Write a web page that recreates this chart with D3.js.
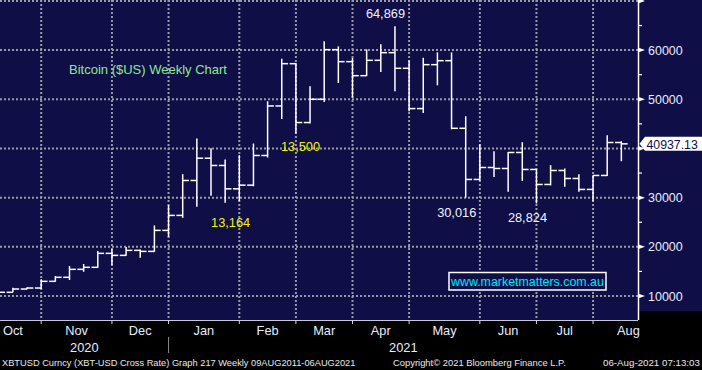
<!DOCTYPE html>
<html><head><meta charset="utf-8">
<script src="https://cdn.jsdelivr.net/npm/d3@7"></script>
<style>html,body{margin:0;padding:0;background:#000;overflow:hidden}svg{display:block}</style>
</head><body><svg id="c" width="702" height="370"></svg>
<script>
// ---- data (weekly OHLC, XBT-USD) ----
const weeks = ["2020-09-28","2020-10-05","2020-10-12","2020-10-19","2020-10-26","2020-11-02","2020-11-09","2020-11-16","2020-11-23","2020-11-30","2020-12-07","2020-12-14","2020-12-21","2020-12-28","2021-01-04","2021-01-11","2021-01-18","2021-01-25","2021-02-01","2021-02-08","2021-02-15","2021-02-22","2021-03-01","2021-03-08","2021-03-15","2021-03-22","2021-03-29","2021-04-05","2021-04-12","2021-04-19","2021-04-26","2021-05-03","2021-05-10","2021-05-17","2021-05-24","2021-05-31","2021-06-07","2021-06-14","2021-06-21","2021-06-28","2021-07-05","2021-07-12","2021-07-19","2021-07-26","2021-08-02"];
const open  = [10800,10750,11420,11620,12980,13800,15420,15830,18670,18260,19280,19070,23340,26390,33490,38020,36540,31790,32540,38570,48640,57240,45270,50000,60090,57650,54800,57920,59480,56300,48110,57040,57850,44100,33700,36130,35930,39180,35730,32680,35520,33900,31670,34510,41210];
const high  = [10950,11690,11770,13390,14060,16090,16500,19140,19540,19950,19480,24350,28480,34770,42010,40050,37750,38630,41000,49600,58260,57400,52640,61780,60760,58390,60150,61170,64869,57870,58460,59540,59540,46550,40860,39440,39300,41270,35850,36600,35930,34770,34570,42690,41470];
const low   = [10450,10750,11360,11420,12900,13250,14930,15750,16290,18180,17780,19000,22040,25900,28130,30370,28950,29290,32300,38160,46000,43030,45070,49450,53310,50350,54730,55540,51630,47560,47220,52840,43900,30016,33410,34220,31180,33410,28824,32500,32190,31180,29290,34400,37410];
const close = [10750,11420,11620,12980,13800,15420,15830,18670,18260,19280,19070,23340,26390,33490,38020,36540,31790,32540,38570,48640,57240,45270,50000,60090,57650,54800,57920,59480,56300,48110,57040,57850,44100,33700,36130,35930,39180,35730,32680,35520,33900,31670,34510,41210,40937.13];

const priceTicks = [10000,20000,30000,40000,50000,60000,70000];
const minorTicks = [15000,25000,35000,45000,55000,65000];
// weeks at which the month grid lines are drawn (plus outer edges for label centring)
const monthGridWeeks = ["2020-10-19","2020-11-23","2020-12-21","2021-01-25","2021-02-22","2021-03-22","2021-04-19","2021-05-24","2021-06-21","2021-07-19"];
const monthEdgeWeeks = ["2020-09-21","2021-08-23"];
const monthLabels = ["Oct","Nov","Dec","Jan","Feb","Mar","Apr","May","Jun","Jul","Aug"];
const yearLabels = ["2020","2021"];
const yearBreakWeek = "2020-12-21";
const titleText = "Bitcoin ($US) Weekly Chart";
const sourceText = "www.marketmatters.com.au";
const annoTexts = ["64,869","30,016","28,824","13,164","13,500"];
const footLeft = "XBTUSD Curncy (XBT-USD Cross Rate) Graph 217  Weekly 09AUG2011-06AUG2021";
const footMid = "Copyright\u00A9 2021 Bloomberg Finance L.P.";
const footRight = "06-Aug-2021 07:13:03";

// ---- layout ----
const W = 702, H = 370, plotR = 638, plotB = 320;
const NAVY = "#0f0e47", GRID = "#9a9aa2", AXT = "#e6ecff";
const parse = d3.utcParse("%Y-%m-%d");
const dates = weeks.map(parse);
const x = d3.scaleUtc().domain([dates[0], dates[dates.length-1]]).range([-1.25, 621.35]);
const y = d3.scaleLinear().domain([10000, 60000]).range([296, 50.1]);
const FONT = "'Liberation Sans', Arial, sans-serif";

const svg = d3.select("#c");
svg.append("rect").attr("width", W).attr("height", H).attr("fill", "#000");
svg.append("rect").attr("x", 0).attr("y", 0).attr("width", plotR).attr("height", plotB).attr("fill", NAVY);
svg.append("rect").attr("x", plotR).attr("y", 0).attr("width", W - plotR).attr("height", 311).attr("fill", NAVY);

svg.append("defs").append("clipPath").attr("id", "clip")
  .append("rect").attr("x", 0).attr("y", 0).attr("width", plotR).attr("height", plotB);
const plot = svg.append("g").attr("clip-path", "url(#clip)");

// grid
plot.selectAll("line.hg").data(priceTicks).join("line").attr("class", "hg")
  .attr("x1", 0).attr("x2", plotR).attr("y1", d => y(d)).attr("y2", d => y(d))
  .attr("stroke", GRID).attr("stroke-width", 2).attr("stroke-dasharray", "2,2");
plot.selectAll("line.vg").data(monthGridWeeks).join("line").attr("class", "vg")
  .attr("x1", d => x(parse(d))).attr("x2", d => x(parse(d))).attr("y1", 0).attr("y2", plotB)
  .attr("stroke", GRID).attr("stroke-width", 2).attr("stroke-dasharray", "2,2");

// OHLC bars
const tick = 6.3;
const bars = plot.selectAll("g.bar").data(dates).join("g").attr("class", "bar");
bars.append("line").attr("x1", d => x(d)).attr("x2", d => x(d))
  .attr("y1", (d, i) => y(high[i])).attr("y2", (d, i) => y(low[i]));
bars.append("line").attr("x1", d => x(d) - tick).attr("x2", d => x(d))
  .attr("y1", (d, i) => y(open[i])).attr("y2", (d, i) => y(open[i]));
bars.append("line").attr("x1", d => x(d)).attr("x2", d => x(d) + tick)
  .attr("y1", (d, i) => y(close[i])).attr("y2", (d, i) => y(close[i]));
bars.selectAll("line").attr("stroke", "#fff").attr("stroke-width", 1.5);

// annotations
const idx = w => weeks.indexOf(w);
const annos = [
  {t: annoTexts[0], cx: x(dates[idx("2021-04-12")]) - 9.5, by: y(high[idx("2021-04-12")]) - 8, c: "#eef2ff"},
  {t: annoTexts[1], cx: x(dates[idx("2021-05-17")]) - 9, by: y(low[idx("2021-05-17")]) + 19, c: "#eef2ff"},
  {t: annoTexts[2], cx: x(dates[idx("2021-06-21")]) - 9, by: y(low[idx("2021-06-21")]) + 19, c: "#eef2ff"},
  {t: annoTexts[3], cx: x(dates[idx("2021-01-18")]) + 5.5, by: y(low[idx("2021-01-18")]) + 24, c: "#f4f400"},
  {t: annoTexts[4], cx: x(dates[idx("2021-02-22")]) + 4.6, by: y(low[idx("2021-02-22")]) + 17, c: "#f4f400"}
];
svg.selectAll("text.anno").data(annos).join("text").attr("class", "anno")
  .attr("x", d => d.cx).attr("y", d => d.by).attr("text-anchor", "middle")
  .attr("fill", d => d.c).attr("font-family", FONT).attr("font-size", 12.8).text(d => d.t);

// title
svg.append("text").attr("x", 69).attr("y", 73.5).attr("fill", "#8ee88e")
  .attr("font-family", FONT).attr("font-size", 13).text(titleText);

// source box
svg.append("rect").attr("x", 449).attr("y", 272.5).attr("width", 157).attr("height", 17.5)
  .attr("fill", NAVY).attr("stroke", "#fff").attr("stroke-width", 1.5);
svg.append("text").attr("x", 451).attr("y", 286).attr("fill", "#00e4ff")
  .attr("font-family", FONT).attr("font-size", 12.4).text(sourceText);

// y axis (right)
const lastClose = close[close.length - 1];
const lastY = y(lastClose);
svg.append("line").attr("x1", plotR + 0.5).attr("x2", plotR + 0.5).attr("y1", 0).attr("y2", plotB)
  .attr("stroke", "#fff").attr("stroke-width", 1.5);
svg.selectAll("path.ymaj").data(priceTicks).join("path").attr("class", "ymaj")
  .attr("d", d => `M${plotR},${y(d) - 2.5}L${plotR + 7},${y(d)}L${plotR},${y(d) + 2.5}Z`)
  .attr("fill", "#fff");
svg.selectAll("line.ymin").data(minorTicks).join("line").attr("class", "ymin")
  .attr("x1", plotR).attr("x2", plotR + 4).attr("y1", d => y(d)).attr("y2", d => y(d))
  .attr("stroke", "#fff").attr("stroke-width", 1.2);
svg.selectAll("text.ylab").data(priceTicks.filter(d => y(d) > 8 && Math.abs(y(d) - lastY) > 12)).join("text").attr("class", "ylab")
  .attr("x", plotR + 10).attr("y", d => y(d) + 4.5).attr("fill", AXT)
  .attr("font-family", FONT).attr("font-size", 12.5).text(d => d3.format("d")(d));

// last price marker
svg.append("path")
  .attr("d", `M${plotR + 1.5},${lastY}L${plotR + 7},${lastY - 7}L${W},${lastY - 7}L${W},${lastY + 7}L${plotR + 7},${lastY + 7}Z`)
  .attr("fill", "#fff");
svg.append("text").attr("x", plotR + 8.5).attr("y", lastY + 5).attr("fill", NAVY)
  .attr("font-family", FONT).attr("font-size", 12.3).text(d3.format(".2f")(lastClose));

// x axis
svg.append("line").attr("x1", 0).attr("x2", plotR).attr("y1", plotB + 0.5).attr("y2", plotB + 0.5)
  .attr("stroke", "#c8c8d0").attr("stroke-width", 1);
svg.selectAll("line.xt").data(monthGridWeeks).join("line").attr("class", "xt")
  .attr("x1", d => x(parse(d))).attr("x2", d => x(parse(d))).attr("y1", plotB).attr("y2", plotB + 4)
  .attr("stroke", "#d8d8e0").attr("stroke-width", 1);
const edges = [monthEdgeWeeks[0], ...monthGridWeeks, monthEdgeWeeks[1]].map(d => x(parse(d)));
svg.selectAll("text.mon").data(monthLabels).join("text").attr("class", "mon")
  .attr("x", (d, i) => (edges[i] + edges[i + 1]) / 2).attr("y", 335)
  .attr("text-anchor", "middle").attr("fill", AXT)
  .attr("font-family", FONT).attr("font-size", 12.8).text(d => d);
const yb = x(parse(yearBreakWeek));
const yearSpans = [[0, yb], [yb, plotR]];
svg.selectAll("text.yr").data(yearLabels).join("text").attr("class", "yr")
  .attr("x", (d, i) => (yearSpans[i][0] + yearSpans[i][1]) / 2).attr("y", 351.5)
  .attr("text-anchor", "middle").attr("fill", AXT)
  .attr("font-family", FONT).attr("font-size", 12.8).text(d => d);
svg.append("line").attr("x1", yb).attr("x2", yb).attr("y1", 337).attr("y2", 353)
  .attr("stroke", "#8a8a8a").attr("stroke-width", 1);

// footer: size each text so that its natural width fits the span it occupies
const foot = [[footLeft, 2, 354], [footMid, 393, 173], [footRight, 603, 97]];
svg.selectAll("text.foot").data(foot).join("text").attr("class", "foot")
  .attr("x", d => d[1]).attr("y", 366)
  .attr("fill", "#e8e8e8").attr("font-family", FONT).attr("font-size", 10).text(d => d[0])
  .each(function(d) {
    const w = this.getComputedTextLength();
    d3.select(this).attr("font-size", Math.min(10.5, 10 * d[2] / w));
  });
</script></body></html>
